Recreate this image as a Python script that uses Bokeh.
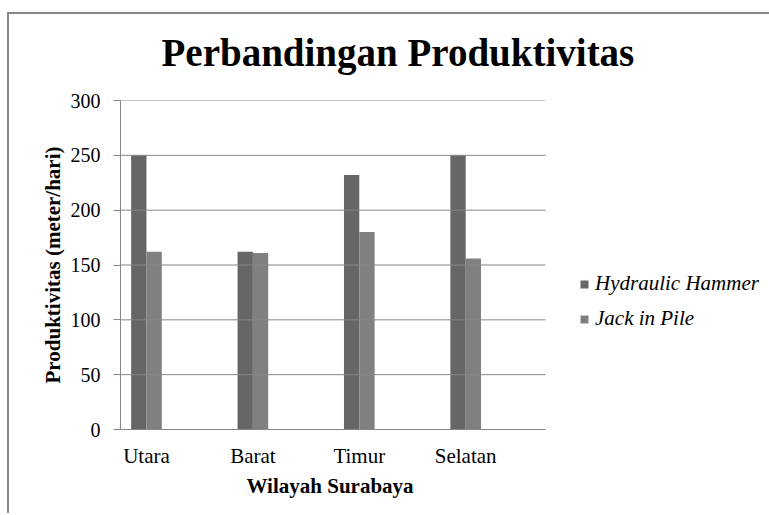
import numpy as np
from bokeh.plotting import figure
from bokeh.models import (ColumnDataSource, FixedTicker, Legend, LegendItem, Range1d, Title)
from bokeh.transform import dodge
from bokeh.embed import file_html
from bokeh.resources import INLINE

categories = ["Utara", "Barat", "Timur", "Selatan"]
hydraulic_hammer = [250, 162, 232, 250]
jack_in_pile = [162, 161, 180, 156]
y_ticks = [0, 50, 100, 150, 200, 250, 300]

W, H = 769, 513
X_LO, X_HI, X_END = -0.244, 5.855, 3.75
src = ColumnDataSource(dict(x=list(range(len(categories))), hh=hydraulic_hammer, jp=jack_in_pile))

p = figure(width=W, height=H, output_backend="svg", toolbar_location=None,
           x_range=Range1d(X_LO, X_HI), y_range=Range1d(0, 300),
           min_border_left=120, min_border_right=0, min_border_top=100, min_border_bottom=84,
           title="Perbandingan Produktivitas")
# chart-area frame line (top and left edges), drawn behind a transparent canvas border
p.styles = {
    "background-image": "linear-gradient(#878787, #878787), linear-gradient(#878787, #878787)",
    "background-size": "100% 2px, 2px 100%",
    "background-position": "7px 12px, 7px 12px",
    "background-repeat": "no-repeat",
}
p.outline_line_color = None
p.background_fill_color = "white"
p.border_fill_color = None

FONT = "Liberation Serif"
gray = "#868686"

p.title.text_font = FONT
p.title.text_font_style = "bold"
p.title.text_font_size = "39px"
p.title.text_color = "black"
p.title.align = "left"
p.title.offset = 41
p.title.standoff = 53

r1 = p.vbar(x=dodge("x", -0.072, range=p.x_range), top="hh", width=0.144, source=src,
            fill_color="#666666", line_color=None)
r2 = p.vbar(x=dodge("x", 0.072, range=p.x_range), top="jp", width=0.144, source=src,
            fill_color="#808080", line_color=None)

p.xgrid.grid_line_color = None
p.ygrid.grid_line_color = None
grid_y = [t for t in y_ticks if t > 0]
p.segment(x0=[X_LO] * len(grid_y), x1=[X_END] * len(grid_y), y0=grid_y, y1=grid_y,
          line_color=gray, line_width=1)

p.yaxis.ticker = FixedTicker(ticks=y_ticks)
p.yaxis.axis_line_color = gray
p.yaxis.major_tick_line_color = gray
p.yaxis.major_tick_out = 7
p.yaxis.major_tick_in = 0
p.yaxis.minor_tick_line_color = None
p.yaxis.major_label_text_font = FONT
p.yaxis.major_label_text_font_size = "20px"
p.yaxis.major_label_text_color = "black"
p.yaxis.major_label_standoff = 13
p.yaxis.axis_label = "Produktivitas (meter/hari)"
p.yaxis.axis_label_text_font = FONT
p.yaxis.axis_label_text_font_style = "bold"
p.yaxis.axis_label_text_font_size = "21px"
p.yaxis.axis_label_text_color = "black"
p.yaxis.axis_label_standoff = 3

p.xaxis.ticker = FixedTicker(ticks=list(range(len(categories))))
p.xaxis.major_label_overrides = {i: c for i, c in enumerate(categories)}
p.xaxis.bounds = (X_LO, X_END)
p.xaxis.axis_line_color = gray
p.xaxis.major_tick_line_color = None
p.xaxis.minor_tick_line_color = None
p.xaxis.major_label_text_font = FONT
p.xaxis.major_label_text_font_size = "21px"
p.xaxis.major_label_text_color = "black"
p.xaxis.major_label_standoff = 8

xtitle = Title(text="Wilayah Surabaya", align="left", offset=126, vertical_align="top",
               standoff=7, text_font=FONT, text_font_style="bold",
               text_font_size="21px", text_color="black")
p.add_layout(xtitle, "below")

legend = Legend(items=[LegendItem(label="Hydraulic Hammer", renderers=[r1]),
                       LegendItem(label="Jack in Pile", renderers=[r2])],
                location=(459, 98), border_line_color=None, background_fill_alpha=0,
                label_text_font=FONT, label_text_font_style="italic",
                label_text_font_size="21px", label_text_color="black",
                glyph_width=10, glyph_height=10,
                label_standoff=6, spacing=10, padding=0, margin=0)
p.add_layout(legend, "center")

open("out.html", "w").write(file_html(p, INLINE))
